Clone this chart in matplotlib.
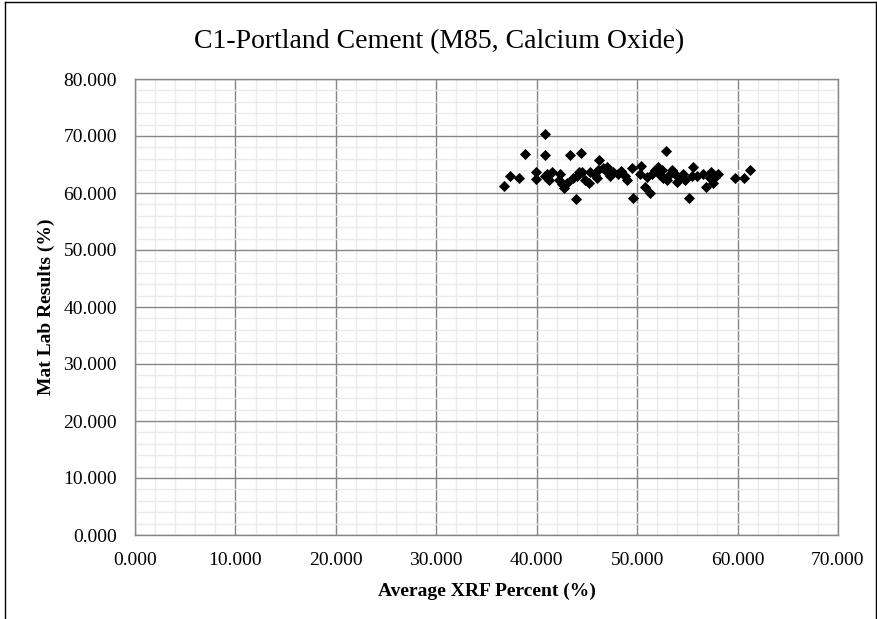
import matplotlib
matplotlib.use("Agg")
import matplotlib.pyplot as plt
from matplotlib.ticker import MultipleLocator, FormatStrFormatter
from matplotlib.lines import Line2D

title = "C1-Portland Cement (M85, Calcium Oxide)"
x_label = "Average XRF Percent (%)"
y_label = "Mat Lab Results (%)"

xrf = [36.7, 37.35, 38.25, 38.8, 39.9, 39.9, 40.84, 40.84, 40.84, 41.2,
       41.5, 42.2, 42.3, 42.7, 43.3, 43.6, 43.9, 44.4, 44.25, 44.5,
       45.3, 44.0, 45.2, 46.0, 46.1, 46.2, 47.0, 47.0, 47.6, 48.1,
       48.8, 49.0, 49.5, 49.6, 50.4, 50.3, 50.8, 51.3, 51.5, 52.1,
       52.3, 52.9, 52.5, 52.6, 53.3, 53.8, 54.3, 54.6, 55.6, 55.5,
       55.2, 56.6, 57.4, 58.1, 56.9, 57.6, 57.3, 59.7, 60.6, 61.2,
       45.8, 46.6, 47.3, 48.4, 51.0, 51.8, 53.0, 53.5, 54.0, 54.8,
       56.0, 57.8, 41.0, 43.0, 44.8, 42.5]
matlab = [61.3, 62.9, 62.6, 66.8, 63.7, 62.5, 70.3, 66.7, 62.9, 62.3,
          63.6, 62.3, 63.4, 60.9, 66.7, 62.6, 58.9, 67.0, 63.6, 63.7,
          63.7, 62.9, 61.7, 62.6, 64.0, 65.8, 64.6, 63.7, 63.7, 63.4,
          62.9, 62.3, 64.3, 59.2, 64.8, 63.4, 61.1, 60.0, 63.4, 64.6,
          63.2, 67.4, 64.0, 62.6, 63.4, 63.4, 62.6, 63.4, 64.6, 62.9,
          59.1, 63.4, 63.7, 63.4, 61.1, 61.7, 62.6, 62.6, 62.6, 64.1,
          63.2, 64.3, 63.0, 63.8, 62.8, 64.0, 62.2, 64.0, 62.0, 62.3,
          63.0, 62.8, 63.3, 61.8, 62.3, 61.5]

plt.rcParams['font.family'] = ['Liberation Serif', 'DejaVu Serif']

fig = plt.figure(figsize=(8.78, 6.19), dpi=100)
ax = fig.add_axes([135/878, 84/619, 703/878, 456/619])

ax.scatter(xrf, matlab, marker='D', s=32, color='black', zorder=3, linewidths=0)

ax.set_xlim(0, 70)
ax.set_ylim(0, 80)
ax.xaxis.set_major_locator(MultipleLocator(10))
ax.xaxis.set_minor_locator(MultipleLocator(2))
ax.yaxis.set_major_locator(MultipleLocator(10))
ax.yaxis.set_minor_locator(MultipleLocator(2))
ax.xaxis.set_major_formatter(FormatStrFormatter('%.3f'))
ax.yaxis.set_major_formatter(FormatStrFormatter('%.3f'))

ax.grid(which='minor', color='#ebebeb', linewidth=1.0, zorder=0)
ax.grid(which='major', color='#868686', linewidth=1.0, zorder=1)
ax.set_axisbelow(True)
for sp in ax.spines.values():
    sp.set_color('#868686')
    sp.set_linewidth(1.0)

ax.tick_params(which='both', length=0)
ax.tick_params(axis='x', labelsize=14, pad=12)
ax.tick_params(axis='y', labelsize=14, pad=13)

ax.set_xlabel(x_label, fontsize=14, fontweight='bold', labelpad=10)
ax.set_ylabel(y_label, fontsize=14, fontweight='bold', labelpad=6)

fig.text(0.5, 1 - 42/619, title, fontsize=20, ha='center', va='center')

# chart border
border_kw = dict(color='black', linewidth=1.0, transform=fig.transFigure)
fig.add_artist(Line2D([0.006, 0.998], [0.996, 0.996], **border_kw))
fig.add_artist(Line2D([0.006, 0.006], [0.0, 0.996], **border_kw))
fig.add_artist(Line2D([0.998, 0.998], [0.0, 0.996], **border_kw))

fig.savefig("out.png", dpi=100)
